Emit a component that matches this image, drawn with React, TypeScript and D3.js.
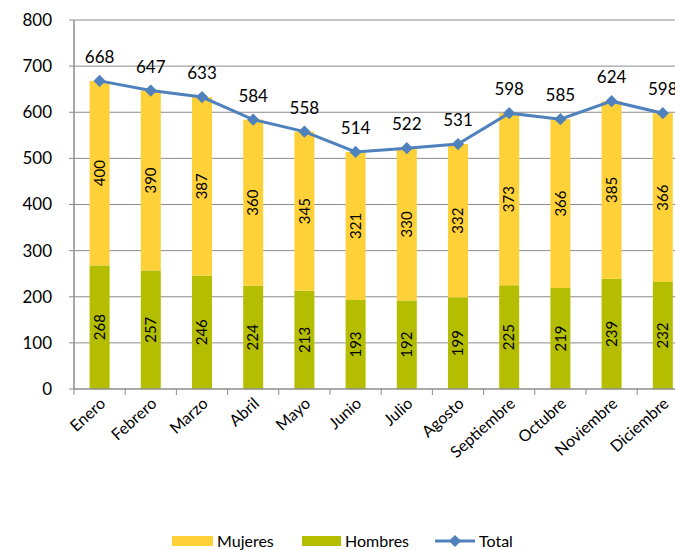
import React from "react";
import * as d3 from "d3";

const meses = ["Enero", "Febrero", "Marzo", "Abril", "Mayo", "Junio", "Julio", "Agosto", "Septiembre", "Octubre", "Noviembre", "Diciembre"];
const hombres = [268, 257, 246, 224, 213, 193, 192, 199, 225, 219, 239, 232];
const mujeres = [400, 390, 387, 360, 345, 321, 330, 332, 373, 366, 385, 366];
const totales = [668, 647, 633, 584, 558, 514, 522, 531, 598, 585, 624, 598];
const yTicks = [0, 100, 200, 300, 400, 500, 600, 700, 800];

const font = "Lato, 'Open Sans', sans-serif";
const colorMujeres = "#FFD138";
const colorHombres = "#B5BD00";
const colorTotal = "#4F81BD";

export default function App() {
  const width = 675;
  const height = 550;
  const left = 74;
  const band = d3.scaleBand().domain(meses).range([left, left + 12 * 51.2]);
  const y = d3.scaleLinear().domain([0, 800]).range([389, 20]);
  const cx = (m: string) => (band(m) as number) + band.bandwidth() / 2;

  const line = d3.line<number>().x((d, i) => cx(meses[i])).y(d => y(d));
  const diamond = d3.symbol().type(d3.symbolDiamond2).size(95)();

  return (
    <svg width={width} height={height} style={{ position: "absolute", left: 0, top: 0, fontFamily: font }}>
      {yTicks.map(t => (
        <g key={t}>
          {t > 0 && <line x1={left - 5} x2={width} y1={y(t)} y2={y(t)} stroke="#8c8c8c" strokeWidth={1} />}
          <text x={52} y={y(t)} dy="0.35em" textAnchor="end" fontSize={17} fill="#000">{t}</text>
        </g>
      ))}
      <line x1={left} x2={left} y1={y(800)} y2={y(0)} stroke="#8c8c8c" strokeWidth={1.5} />
      <line x1={left - 5} x2={left} y1={y(0)} y2={y(0)} stroke="#8c8c8c" />

      {meses.map((m, i) => {
        const c = cx(m);
        const bw = 20;
        return (
          <g key={m}>
            <rect x={c - bw / 2} width={bw} y={y(hombres[i])} height={y(0) - y(hombres[i])} fill={colorHombres} />
            <rect x={c - bw / 2} width={bw} y={y(totales[i])} height={y(hombres[i]) - y(totales[i])} fill={colorMujeres} />
            <text transform={`translate(${c},${y(hombres[i] / 2)}) rotate(-90)`} textAnchor="middle" dy="0.35em" fontSize={15}>{hombres[i]}</text>
            <text transform={`translate(${c},${y(hombres[i] + mujeres[i] / 2)}) rotate(-90)`} textAnchor="middle" dy="0.35em" fontSize={15}>{mujeres[i]}</text>
          </g>
        );
      })}

      <line x1={left} x2={width} y1={y(0)} y2={y(0)} stroke="#8c8c8c" strokeWidth={1.5} />
      {d3.range(13).map(i => {
        const tx = left + i * band.bandwidth();
        return <line key={"xt" + i} x1={tx} x2={tx} y1={y(0)} y2={y(0) + 6} stroke="#8c8c8c" />;
      })}

      <path d={line(totales) || ""} fill="none" stroke={colorTotal} strokeWidth={3} />
      {totales.map((v, i) => (
        <g key={"p" + i}>
          <path d={diamond} transform={`translate(${cx(meses[i])},${y(v)})`} fill={colorTotal} />
          <text x={cx(meses[i])} y={y(v) - 24} textAnchor="middle" dy="0.35em" fontSize={17}>{v}</text>
        </g>
      ))}

      {meses.map(m => (
        <text key={"l" + m} transform={`translate(${cx(m) + 7},${y(0) + 16}) rotate(-42)`} textAnchor="end" fontSize={16}>{m}</text>
      ))}

      <g fontSize={16}>
        <rect x={172} y={536} width={41} height={10} fill={colorMujeres} />
        <text x={217} y={541} dy="0.35em">Mujeres</text>
        <rect x={302} y={536} width={39} height={10} fill={colorHombres} />
        <text x={345} y={541} dy="0.35em">Hombres</text>
        <line x1={435} x2={475} y1={541} y2={541} stroke={colorTotal} strokeWidth={3} />
        <path d={diamond} transform="translate(455,541)" fill={colorTotal} />
        <text x={479} y={541} dy="0.35em">Total</text>
      </g>
    </svg>
  );
}
